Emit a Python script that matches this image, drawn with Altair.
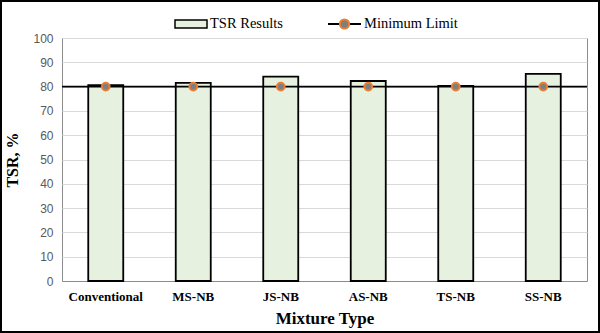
import altair as alt
import pandas as pd

categories = ["Conventional", "MS-NB", "JS-NB", "AS-NB", "TS-NB", "SS-NB"]
tsr_values = [80.6, 81.5, 84.1, 82.3, 80.3, 85.2]
minimum_limit = [80, 80, 80, 80, 80, 80]

df = pd.DataFrame({
    "Mixture": categories,
    "TSR": tsr_values,
    "Limit": minimum_limit,
    "bar_series": ["TSR Results"] * len(categories),
    "line_series": ["Minimum Limit"] * len(categories),
})

W, H = 525, 243
SERIF = "Liberation Serif"

y_axis = alt.Axis(values=list(range(0, 101, 10)), tickCount=11, ticks=False, domain=False,
                  labelFont="Liberation Sans", labelFontSize=12,
                  labelColor="#595959", labelPadding=9, labelOverlap=False,
                  gridColor="#d9d9d9", titleFont=SERIF, titleFontSize=16,
                  titleFontWeight="bold", titleColor="black", titlePadding=12)
y_scale = alt.Scale(domain=[0, 100], nice=False)

x_enc = alt.X(
    "Mixture:N", sort=categories, title="Mixture Type",
    scale=alt.Scale(paddingInner=0.6, paddingOuter=0.3),
    axis=alt.Axis(labelAngle=0, ticks=False, labelFont=SERIF, labelFontWeight="bold",
                  labelFontSize=13, labelColor="black", labelPadding=9,
                  domainColor="#8c8c8c", titleFont=SERIF, titleFontSize=17,
                  titleFontWeight="bold", titleColor="black", titlePadding=7),
)

leg_common = dict(title=None, orient="none", labelFont=SERIF, labelFontSize=14.5,
                  labelColor="black", labelOffset=2, padding=0)

bars = alt.Chart(df).mark_bar(stroke="black", strokeWidth=1.8).encode(
    x=x_enc,
    y=alt.Y("TSR:Q", title="TSR, %", scale=y_scale, axis=y_axis),
    fill=alt.Fill("bar_series:N",
                  scale=alt.Scale(domain=["TSR Results"], range=["#e6f1df"]),
                  legend=alt.Legend(legendX=112, legendY=-31,
                                    symbolType="M-1,-0.25H1V0.25H-1Z", symbolSize=1024,
                                    symbolStrokeColor="black", symbolStrokeWidth=1.5,
                                    **leg_common)),
)

rule = alt.Chart(df).mark_rule(strokeWidth=1.6, stroke="black").encode(
    y=alt.Y("mean(Limit):Q", title="TSR, %", scale=y_scale, axis=y_axis),
    opacity=alt.Opacity("line_series:N",
                        scale=alt.Scale(domain=["Minimum Limit"], range=[1]),
                        legend=alt.Legend(legendX=265, legendY=-31.5,
                                          symbolType="M-1,0H1", symbolSize=1089,
                                          symbolStrokeColor="black", symbolStrokeWidth=2,
                                          symbolOpacity=1, **leg_common)),
)

points = alt.Chart(df).mark_point(filled=False, fill="#7f7f7f", strokeWidth=2, size=60,
                                  opacity=1, fillOpacity=1).encode(
    x=alt.X("Mixture:N", sort=categories, title="Mixture Type"),
    y=alt.Y("Limit:Q", title="TSR, %", scale=y_scale, axis=y_axis),
    stroke=alt.Stroke("line_series:N",
                      scale=alt.Scale(domain=["Minimum Limit"], range=["#ed7d31"]),
                      legend=alt.Legend(legendX=265, legendY=-31.5,
                                        symbolType="M-0.28,0A0.28,0.28 0 1,0 0.28,0A0.28,0.28 0 1,0 -0.28,0Z",
                                        symbolSize=1089, symbolFillColor="#7f7f7f",
                                        symbolStrokeWidth=2, symbolOpacity=1,
                                        labelOpacity=0, **leg_common)),
)

frame = alt.Chart(alt.Data(values=[{"a": 1}])).mark_rect(
    fill="transparent", stroke="black", strokeWidth=2
).encode(
    x=alt.value(-61), x2=alt.value(W + 12), y=alt.value(-37), y2=alt.value(H + 51)
)

chart = alt.layer(bars, rule, points, frame).resolve_scale(
    fill="independent", stroke="independent", opacity="independent"
).properties(
    width=W, height=H,
    background="white",
    autosize=alt.AutoSizeParams(type="none"),
    padding={"left": 62, "top": 38, "right": 13, "bottom": 52},
).configure(
    view={"stroke": "#8c8c8c", "strokeWidth": 1},
    legend={"labelFont": SERIF, "labelFontSize": 14.5, "labelColor": "black"},
)

chart.save("out.html", embed_options={"renderer": "svg", "actions": False})
